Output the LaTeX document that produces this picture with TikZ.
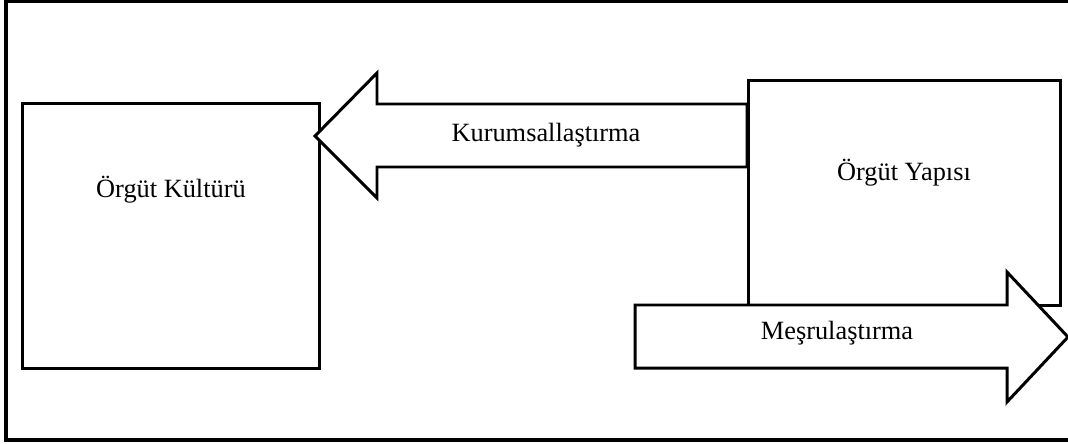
\documentclass[tikz,border=0pt]{standalone}
\usepackage{fontspec}
\setmainfont{Liberation Serif}
\tikzset{
  kutu/.style={draw, line width=1.7pt, fill=white, inner sep=0pt},
  blokok/.style={draw, line width=1.7pt, fill=white, line join=miter},
  yazi/.style={font=\fontsize{15}{18}\selectfont, inner sep=0pt}
}
\begin{document}
\begin{tikzpicture}[x=0.02cm, y=-0.02cm]
\useasboundingbox (0,0) rectangle (1068,443);

% cerceve
\draw[line width=1.8pt] (1075,1) -- (6,1) -- (6,440) -- (1075,440);

\draw
(171,236) node[kutu, minimum width=5.96cm, minimum height=5.32cm](kultur){};

% kurumsallastirma oku
\draw[blokok] (747,104) -- (377,104) -- (377,73) -- (315,136) -- (377,198) -- (377,167) -- (747,167) -- cycle;

\draw
(904.5,193) node[kutu, minimum width=6.26cm, minimum height=4.52cm](yapi){};

% mesrulastirma oku
\draw[blokok] (635,305) -- (1007,305) -- (1007,272) -- (1068,337) -- (1007,402) -- (1007,368) -- (635,368) -- cycle;

\node[yazi] (kulturyazi) at (171,190) {Örgüt Kültürü};
\node[yazi] (yapiyazi) at (904,173) {Örgüt Yapısı};
\node[yazi] (kurum) at (546,135) {Kurumsallaştırma};
\node[yazi] (mesru) at (837,333) {Meşrulaştırma};

\end{tikzpicture}
\end{document}
